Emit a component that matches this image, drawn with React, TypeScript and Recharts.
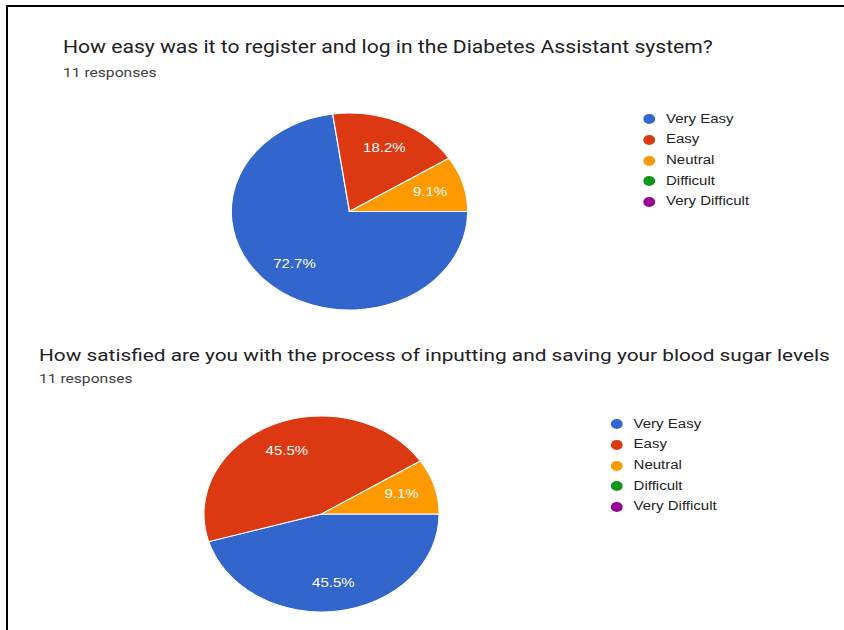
import React from "react"
import { Cell, Legend, Pie, PieChart } from "recharts"

const categories = ["Very Easy", "Easy", "Neutral", "Difficult", "Very Difficult"]
const sliceColors = ["#3366cc", "#dc3912", "#ff9900", "#109618", "#990099"]
const registerCounts = [8, 2, 1, 0, 0]
const savingCounts = [5, 5, 1, 0, 0]
const titles = [
  "How easy was it to register and log in the Diabetes Assistant system?",
  "How satisfied are you with the process of inputting and saving your blood sugar levels",
]
const responseLabel = "11 responses"

// the screenshot is stretched horizontally, so draw narrow and scale up
const SX = 1.2
const W = 844 / SX
const RADIAN = Math.PI / 180

const toRows = (counts: number[]) => categories.map((name, i) => ({ name, value: counts[i] }))

const renderLabel = (p: any) => {
  if (!p.value) return null
  const r = p.outerRadius * 0.71
  const x = p.cx + r * Math.cos(-p.midAngle * RADIAN)
  const y = p.cy + r * Math.sin(-p.midAngle * RADIAN)
  return (
    <text
      x={x}
      y={y}
      fill="#ffffff"
      textAnchor="middle"
      dominantBaseline="central"
      fontSize={12.5}
      fontFamily="Arial, 'Liberation Sans', sans-serif"
    >
      {`${(p.percent * 100).toFixed(1)}%`}
    </text>
  )
}

const legendText = (value: string) => (
  <span style={{ color: "#222222", paddingLeft: 5 }}>{value}</span>
)

type QuestionPieProps = {
  counts: number[]
  height: number
  cx: number
  cy: number
  radius: number
  legendLeft: number
  legendTop: number
}

function QuestionPie({ counts, height, cx, cy, radius, legendLeft, legendTop }: QuestionPieProps) {
  return (
    <PieChart width={W} height={height} margin={{ top: 0, right: 0, bottom: 0, left: 0 }}>
      <Pie
        data={toRows(counts)}
        dataKey="value"
        nameKey="name"
        cx={cx}
        cy={cy}
        outerRadius={radius}
        startAngle={0}
        endAngle={-360}
        stroke="#ffffff"
        strokeWidth={1}
        label={renderLabel}
        labelLine={false}
        isAnimationActive={false}
      >
        {counts.map((_, i) => (
          <Cell key={i} fill={sliceColors[i]} />
        ))}
      </Pie>
      <Legend
        layout="vertical"
        align="right"
        verticalAlign="middle"
        iconType="circle"
        iconSize={10}
        formatter={legendText}
        itemSorter={(item: any) => categories.indexOf(item.value)}
        wrapperStyle={{
          left: legendLeft,
          top: legendTop,
          right: "auto",
          width: 150,
          fontSize: 12.5,
          lineHeight: "20.7px",
          fontFamily: "Arial, 'Liberation Sans', sans-serif",
        }}
      />
    </PieChart>
  )
}

const titleStyle: React.CSSProperties = {
  position: "absolute",
  fontFamily: "Roboto, sans-serif",
  lineHeight: "20px",
  color: "#202124",
  whiteSpace: "nowrap",
}
const subStyle: React.CSSProperties = {
  position: "absolute",
  fontFamily: "Roboto, sans-serif",
  fontSize: 13,
  lineHeight: "15px",
  color: "#3c4043",
  whiteSpace: "nowrap",
}

export default function App() {
  return (
    <div style={{ position: "absolute", left: 0, top: 0, width: 844, height: 630, background: "#fff", overflow: "hidden" }}>
      <div style={{ position: "absolute", left: 6, top: 5, width: 838, height: 2, background: "#000" }} />
      <div style={{ position: "absolute", left: 6, top: 5, width: 2, height: 625, background: "#000" }} />
      <div
        style={{
          position: "absolute",
          left: 0,
          top: 0,
          width: W,
          height: 630,
          transform: `scaleX(${SX})`,
          transformOrigin: "0 0",
        }}
      >
        <div style={{ ...titleStyle, fontSize: 17.6, left: 63 / SX, top: 37 }}>{titles[0]}</div>
        <div style={{ ...subStyle, left: 63 / SX, top: 65 }}>{responseLabel}</div>
        <div style={{ position: "absolute", left: 0, top: 0 }}>
          <QuestionPie
            counts={registerCounts}
            height={320}
            cx={349.5 / SX}
            cy={211.5}
            radius={98.5}
            legendLeft={536}
            legendTop={108.6}
          />
        </div>
        <div style={{ ...titleStyle, fontSize: 17.35, left: 39 / SX, top: 345 }}>{titles[1]}</div>
        <div style={{ ...subStyle, left: 39 / SX, top: 371 }}>{responseLabel}</div>
        <div style={{ position: "absolute", left: 0, top: 320 }}>
          <QuestionPie
            counts={savingCounts}
            height={310}
            cx={321.5 / SX}
            cy={194}
            radius={98}
            legendLeft={509}
            legendTop={93.6}
          />
        </div>
      </div>
    </div>
  )
}
